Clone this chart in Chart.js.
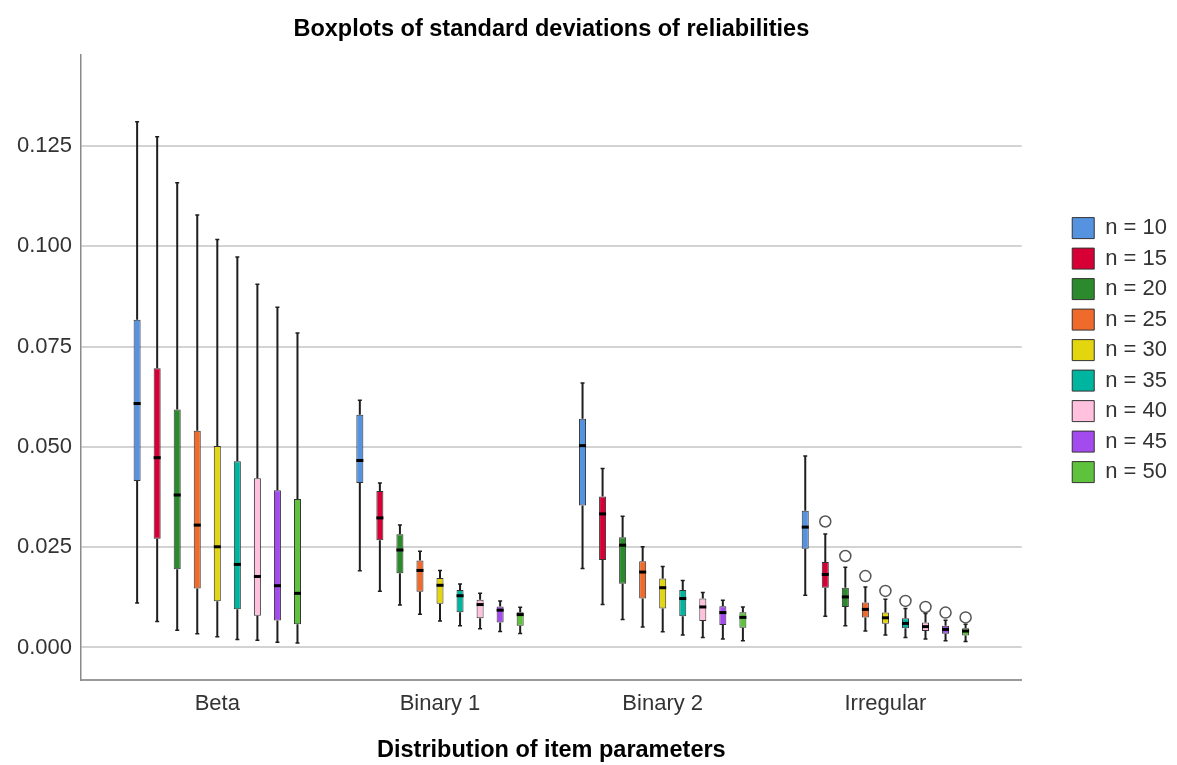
<!DOCTYPE html>
<html>
<head>
<meta charset="utf-8">
<script src="https://cdn.jsdelivr.net/npm/chart.js@4.4.1/dist/chart.umd.min.js"></script>
<style>
  html, body { margin: 0; padding: 0; background: #fff; }
  #wrap { width: 1177px; height: 765px; position: relative; }
</style>
</head>
<body>
<div id="wrap"><canvas id="boxChart"></canvas></div>
<script>
// categories and series
const groups = ['Beta', 'Binary 1', 'Binary 2', 'Irregular'];
const sizes = ['n = 10', 'n = 15', 'n = 20', 'n = 25', 'n = 30', 'n = 35', 'n = 40', 'n = 45', 'n = 50'];
const colors = ['#5592DF', '#D60036', '#2B8A2B', '#F06A2C', '#E4D60E', '#00B5A0', '#FFC1DE', '#A44BEF', '#5EC23C'];

// per group: [lower whisker, q1, median, q3, upper whisker]
const n10 = [[0.0111, 0.0415, 0.0608, 0.0817, 0.1310], [0.0191, 0.0410, 0.0466, 0.0580, 0.0616], [0.0197, 0.0354, 0.0503, 0.0570, 0.0659], [0.0130, 0.0246, 0.0300, 0.0341, 0.0477]];
const n15 = [[0.0065, 0.0271, 0.0473, 0.0696, 0.1273], [0.0140, 0.0267, 0.0323, 0.0390, 0.0410], [0.0107, 0.0218, 0.0333, 0.0376, 0.0446], [0.0078, 0.0149, 0.0182, 0.0213, 0.0283]];
const n20 = [[0.0043, 0.0195, 0.0380, 0.0593, 0.1158], [0.0106, 0.0185, 0.0243, 0.0282, 0.0305], [0.0070, 0.0159, 0.0255, 0.0275, 0.0327], [0.0054, 0.0101, 0.0126, 0.0149, 0.0200]];
const n25 = [[0.0034, 0.0147, 0.0305, 0.0540, 0.1078], [0.0083, 0.0139, 0.0192, 0.0217, 0.0240], [0.0051, 0.0122, 0.0188, 0.0215, 0.0251], [0.0041, 0.0075, 0.0095, 0.0112, 0.0151]];
const n30 = [[0.0027, 0.0115, 0.0251, 0.0502, 0.1017], [0.0066, 0.0109, 0.0155, 0.0173, 0.0192], [0.0039, 0.0097, 0.0149, 0.0172, 0.0202], [0.0031, 0.0059, 0.0074, 0.0087, 0.0120]];
const n35 = [[0.0020, 0.0095, 0.0207, 0.0464, 0.0973], [0.0054, 0.0088, 0.0129, 0.0143, 0.0158], [0.0031, 0.0078, 0.0122, 0.0143, 0.0167], [0.0025, 0.0048, 0.0060, 0.0073, 0.0097]];
const n40 = [[0.0018, 0.0079, 0.0177, 0.0422, 0.0905], [0.0047, 0.0073, 0.0107, 0.0119, 0.0135], [0.0025, 0.0066, 0.0101, 0.0122, 0.0137], [0.0021, 0.0041, 0.0052, 0.0062, 0.0085]];
const n45 = [[0.0013, 0.0067, 0.0154, 0.0392, 0.0848], [0.0040, 0.0062, 0.0093, 0.0102, 0.0116], [0.0021, 0.0056, 0.0087, 0.0103, 0.0118], [0.0017, 0.0034, 0.0045, 0.0054, 0.0068]];
const n50 = [[0.0011, 0.0058, 0.0135, 0.0370, 0.0784], [0.0035, 0.0054, 0.0082, 0.0088, 0.0100], [0.0017, 0.0049, 0.0075, 0.0088, 0.0101], [0.0015, 0.0030, 0.0041, 0.0048, 0.0058]];
const series = [n10, n15, n20, n25, n30, n35, n40, n45, n50];

// outliers (only in Irregular)
const irregularOutliers = [null, 0.0314, 0.0228, 0.0178, 0.0141, 0.0116, 0.0101, 0.0087, 0.0075];

const yTicks = [0, 0.025, 0.05, 0.075, 0.1, 0.125];

Chart.defaults.font.family = "'Liberation Sans', Arial, sans-serif";
Chart.defaults.color = '#333';

// whiskers, medians and outliers drawn through the chart scales
const boxParts = {
  id: 'boxParts',
  beforeDatasetsDraw(chart) {
    const ctx = chart.ctx;
    const y = chart.scales.y;
    ctx.save();
    ctx.strokeStyle = '#1e1e1e';
    series.forEach((s, d) => {
      chart.getDatasetMeta(d).data.forEach((bar, i) => {
        const st = s[i];
        const x = bar.x;
        ctx.lineWidth = 2;
        ctx.beginPath();
        ctx.moveTo(x, y.getPixelForValue(st[0]));
        ctx.lineTo(x, y.getPixelForValue(st[1]));
        ctx.moveTo(x, y.getPixelForValue(st[3]));
        ctx.lineTo(x, y.getPixelForValue(st[4]));
        ctx.stroke();
        ctx.lineWidth = 1.5;
        ctx.beginPath();
        [st[0], st[4]].forEach(v => {
          const py = y.getPixelForValue(v);
          ctx.moveTo(x - 2, py);
          ctx.lineTo(x + 2, py);
        });
        ctx.stroke();
      });
    });
    ctx.restore();
  },
  afterDatasetsDraw(chart) {
    const ctx = chart.ctx;
    const y = chart.scales.y;
    ctx.save();
    series.forEach((s, d) => {
      chart.getDatasetMeta(d).data.forEach((bar, i) => {
        const py = y.getPixelForValue(s[i][2]);
        ctx.fillStyle = '#000';
        ctx.fillRect(bar.x - bar.width / 2, py - 1.5, bar.width, 3);
      });
      const o = irregularOutliers[d];
      if (o !== null) {
        const bar = chart.getDatasetMeta(d).data[3];
        ctx.beginPath();
        ctx.arc(bar.x, y.getPixelForValue(o), 5.5, 0, Math.PI * 2);
        ctx.fillStyle = '#fff';
        ctx.fill();
        ctx.lineWidth = 1.5;
        ctx.strokeStyle = '#555';
        ctx.stroke();
      }
    });
    ctx.restore();
  }
};

const datasets = series.map((s, d) => ({
  label: sizes[d],
  data: s.map((st, i) => ({x: i, y: [st[1], st[3]]})),
  backgroundColor: colors[d],
  borderColor: '#333',
  borderWidth: 1,
  borderSkipped: false,
  barPercentage: 0.35,
  categoryPercentage: 0.81
}));

new Chart(document.getElementById('boxChart'), {
  type: 'bar',
  data: {datasets},
  plugins: [boxParts],
  options: {
    responsive: true,
    maintainAspectRatio: false,
    animation: false,
    layout: {padding: {left: 14, right: 0, top: 0, bottom: 0}},
    plugins: {
      tooltip: {enabled: false},
      title: {
        display: true,
        text: 'Boxplots of standard deviations of reliabilities',
        color: '#000',
        fullSize: false,
        font: {size: 23.5, weight: 'bold'},
        padding: {top: 15, bottom: 12}
      },
      legend: {
        position: 'right',
        align: 'start',
        fullSize: false,
        title: {display: true, text: ' ', font: {size: 12}, padding: {top: 139, bottom: 0}},
        labels: {boxWidth: 22, boxHeight: 21, padding: 8.5, color: '#333', font: {size: 22}}
      }
    },
    scales: {
      x: {
        type: 'linear',
        min: -0.612,
        max: 3.612,
        offset: false,
        afterFit: s => { s.height = 85; },
        grid: {display: false, offset: false},
        border: {display: true, color: '#9a9a9a', width: 2},
        ticks: {
          stepSize: 1,
          includeBounds: false,
          autoSkip: false,
          maxRotation: 0,
          padding: 3,
          font: {size: 22},
          color: '#333',
          callback: v => groups[v] !== undefined && Number.isInteger(v) ? groups[v] : ''
        },
        title: {
          display: true,
          text: 'Distribution of item parameters',
          color: '#000',
          font: {size: 23.5, weight: 'bold'},
          padding: {top: 18, bottom: 0}
        }
      },
      y: {
        type: 'linear',
        min: -0.0081,
        max: 0.1476,
        afterFit: s => { s.width = 67; },
        afterBuildTicks: s => { s.ticks = yTicks.map(v => ({value: v})); },
        grid: {color: '#d3d3d3', lineWidth: 2, drawTicks: false},
        border: {display: true, color: '#8a8a8a', width: 1.5},
        ticks: {
          padding: 9,
          font: {size: 22},
          color: '#333',
          callback: v => Number(v).toFixed(3)
        }
      },
      gap: {
        type: 'linear',
        position: 'right',
        display: true,
        afterFit: s => { s.width = 42; },
        grid: {display: false},
        border: {display: false},
        ticks: {display: false}
      }
    }
  }
});
</script>
</body>
</html>
